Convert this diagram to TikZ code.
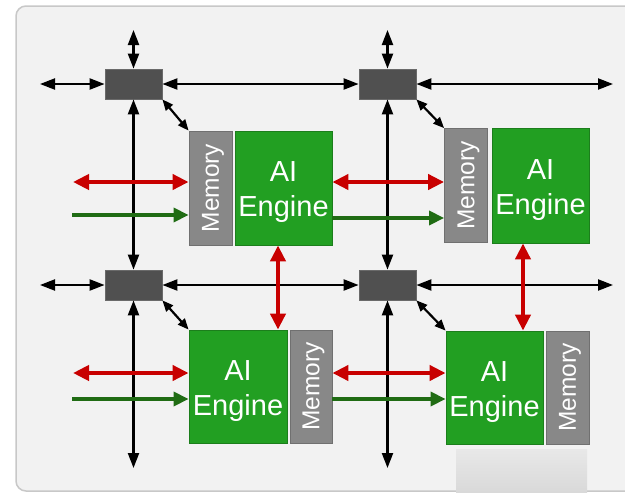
\documentclass[tikz,border=0pt]{standalone}
\usepackage{fontspec}
\setmainfont{Liberation Sans}
\usetikzlibrary{arrows.meta,calc}
\definecolor{panelbg}{HTML}{F2F2F2}
\definecolor{panelline}{HTML}{C8C8C8}
\definecolor{swfill}{HTML}{505050}
\definecolor{swline}{HTML}{6A6A6A}
\definecolor{aegreen}{HTML}{229F22}
\definecolor{aeline}{HTML}{1C7E1C}
\definecolor{memgray}{HTML}{888888}
\definecolor{memline}{HTML}{707070}
\definecolor{busred}{HTML}{C80000}
\definecolor{busgreen}{HTML}{206C14}
\tikzset{
  switchbox/.style={draw=swline, line width=0.8pt, fill=swfill, minimum width=57pt, minimum height=30pt, inner sep=0pt},
  engine/.style={draw=aeline, line width=0.8pt, fill=aegreen, inner sep=0pt},
  enginetext/.style={text=white, inner sep=0pt, font=\fontsize{29}{35}\selectfont, align=center},
  membox/.style={draw=memline, line width=0.8pt, fill=memgray, inner sep=0pt,
    minimum width=43pt, minimum height=114pt},
  memtext/.style={text=white, inner sep=0pt, rotate=90, font=\fontsize{24.5}{28}\selectfont},
  net/.style={line width=2.2pt, black, {Triangle[length=15pt,width=11pt]}-{Triangle[length=15pt,width=11pt]}},
  diag/.style={line width=2.2pt, black, {Triangle[length=11pt,width=9pt]}-{Triangle[length=11pt,width=9pt]}},
  cascade/.style={line width=4pt, busred, {Triangle[length=16pt,width=15pt]}-{Triangle[length=16pt,width=15pt]}},
  stream/.style={line width=3.5pt, busgreen, -{Triangle[length=15pt,width=14pt]}},
}
\begin{document}
\begin{tikzpicture}[x=1pt,y=-1pt]
\useasboundingbox (0,0) rectangle (625,493);
\fill[white] (0,0) rectangle (625,493);
% background panel
\begin{scope}
\clip (0,0) rectangle (625,493);
\draw[panelline, line width=1.5pt, fill=panelbg, rounded corners=10pt] (16,6) rectangle (650,491);
\end{scope}
\shade[top color=black!9, bottom color=black!15] (456,449) rectangle (587,493);

% switches
\node[switchbox] (sw11) at (133.5,84) {};
\node[switchbox] (sw12) at (387.5,84) {};
\node[switchbox] (sw21) at (133.5,285) {};
\node[switchbox] (sw22) at (387.5,285) {};

% tiles, top row: memory on the left
\node[membox] (mem11) at (210.5,188) {};
\node[memtext] at ($(mem11)+(2.5,0)$) {Memory};
\node[engine, minimum width=97pt, minimum height=114pt] (eng11) at (283.5,188) {};
\node[enginetext] at ($(eng11)+(0,4.5)$) {AI\\Engine};
\node[membox] (mem12) at (466,185.5) {};
\node[memtext] at ($(mem12)+(2.5,0)$) {Memory};
\node[engine, minimum width=97pt, minimum height=115pt] (eng12) at (540.5,185.5) {};
\node[enginetext] at ($(eng12)+(0,4.5)$) {AI\\Engine};

% tiles, bottom row: memory on the right
\node[engine, minimum width=98pt, minimum height=113pt] (eng21) at (238,386.5) {};
\node[enginetext] at ($(eng21)+(0,4.5)$) {AI\\Engine};
\node[membox, minimum width=42pt, minimum height=113pt] (mem21) at (311,386.5) {};
\node[memtext] at ($(mem21)+(2.5,0)$) {Memory};
\node[engine, minimum width=97pt, minimum height=113pt] (eng22) at (494.5,387.5) {};
\node[enginetext] at ($(eng22)+(0,4.5)$) {AI\\Engine};
\node[membox, minimum width=43pt, minimum height=113pt] (mem22) at (567.5,387.5) {};
\node[memtext] at ($(mem22)+(2.5,0)$) {Memory};

% free ends of the network
\coordinate (t1) at (133.5,30);
\coordinate (t2) at (387.5,30);
\coordinate (l1) at (40,84);
\coordinate (l2) at (40,285);
\coordinate (e1) at (613,84);
\coordinate (e2) at (613,285);
\coordinate (b1) at (133.5,468);
\coordinate (b2) at (387.5,468);

% switch network
\draw[net] (t1) -- (sw11.north);
\draw[net] (t2) -- (sw12.north);
\draw[net] (l1) -- (sw11.west);
\draw[net] (sw11.east) -- (sw12.west);
\draw[net] (sw12.east) -- (e1);
\draw[net] (l2) -- (sw21.west);
\draw[net] (sw21.east) -- (sw22.west);
\draw[net] (sw22.east) -- (e2);
\draw[net] (sw11.south) -- (sw21.north);
\draw[net] (sw12.south) -- (sw22.north);
\draw[net] (sw21.south) -- (b1);
\draw[net] (sw22.south) -- (b2);

% switch to tile
\draw[diag] (sw11.south east) -- (mem11.north west);
\draw[diag] (sw12.south east) -- (mem12.north west);
\draw[diag] (sw21.south east) -- (eng21.north west);
\draw[diag] (sw22.south east) -- (eng22.north west);

% cascade and stream links, top row
\coordinate (r1) at (73,182);
\coordinate (g1) at (72,215);
\coordinate (g2) at (332,218);
\draw[cascade] (r1) -- (r1 -| mem11.west);
\draw[stream] (g1) -- (g1 -| mem11.west);
\draw[cascade] (eng11.east |- r1) -- (mem12.west |- r1);
\draw[stream] (eng11.east |- g2) -- (mem12.west |- g2);

% cascade and stream links, bottom row
\coordinate (r2) at (73,373);
\coordinate (g3) at (72,399);
\draw[cascade] (r2) -- (r2 -| eng21.west);
\draw[stream] (g3) -- (g3 -| eng21.west);
\draw[cascade] (mem21.east |- r2) -- (eng22.west |- r2);
\draw[stream] (mem21.east |- g3) -- (eng22.west |- g3);

% vertical links between rows
\coordinate (v1) at (278,0);
\coordinate (v2) at (523,0);
\draw[cascade] (v1 |- eng11.south) -- (v1 |- eng21.north);
\draw[cascade] (v2 |- eng12.south) -- (v2 |- eng22.north);
\end{tikzpicture}
\end{document}
